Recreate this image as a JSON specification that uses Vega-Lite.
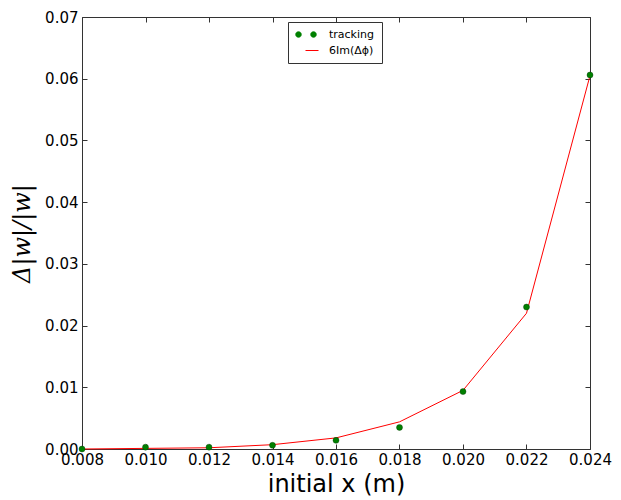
{
  "$schema": "https://vega.github.io/schema/vega-lite/v6.json",
  "width": 508,
  "height": 432,
  "autosize": "none",
  "padding": {"left": 82, "top": 17, "right": 31, "bottom": 51},
  "background": "white",
  "config": {"view": {"stroke": null}, "font": "DejaVu Sans"},
  "data": {"values": [
    {"series": "tracking", "x": 0.008, "y": 0.0000},
    {"series": "tracking", "x": 0.010, "y": 0.0003},
    {"series": "tracking", "x": 0.012, "y": 0.0003},
    {"series": "tracking", "x": 0.014, "y": 0.0006},
    {"series": "tracking", "x": 0.016, "y": 0.0014},
    {"series": "tracking", "x": 0.018, "y": 0.0035},
    {"series": "tracking", "x": 0.020, "y": 0.0093},
    {"series": "tracking", "x": 0.022, "y": 0.0230},
    {"series": "tracking", "x": 0.024, "y": 0.0606},
    {"series": "6Im(Δϕ)", "x": 0.008, "y": 0.0000},
    {"series": "6Im(Δϕ)", "x": 0.010, "y": 0.0001},
    {"series": "6Im(Δϕ)", "x": 0.012, "y": 0.0002},
    {"series": "6Im(Δϕ)", "x": 0.014, "y": 0.0007},
    {"series": "6Im(Δϕ)", "x": 0.016, "y": 0.0018},
    {"series": "6Im(Δϕ)", "x": 0.018, "y": 0.0044},
    {"series": "6Im(Δϕ)", "x": 0.020, "y": 0.0095},
    {"series": "6Im(Δϕ)", "x": 0.022, "y": 0.0220},
    {"series": "6Im(Δϕ)", "x": 0.024, "y": 0.0605}
  ]},
  "layer": [
    {
      "transform": [{"filter": "datum.series !== 'tracking'"}],
      "mark": {"type": "line", "strokeWidth": 1, "clip": false},
      "encoding": {
        "x": {"field": "x", "type": "quantitative",
          "scale": {"domain": [0.008, 0.024], "nice": false, "zero": false},
          "axis": {"orient": "top", "labels": false, "title": null, "values": [0.008,0.010,0.012,0.014,0.016,0.018,0.020,0.022,0.024], "tickSize": -5, "tickColor": "#333", "domainColor": "#333", "grid": false}},
        "y": {"field": "y", "type": "quantitative",
          "scale": {"domain": [0, 0.07], "nice": false},
          "axis": {"orient": "right", "labels": false, "title": null, "values": [0,0.01,0.02,0.03,0.04,0.05,0.06,0.07], "tickSize": -5, "tickColor": "#333", "domainColor": "#333", "grid": false}},
        "color": {"field": "series", "type": "nominal",
          "scale": {"domain": ["tracking", "6Im(Δϕ)"], "range": ["#008000", "#ff0000"]},
          "legend": {
            "title": null, "orient": "none", "legendX": 206, "legendY": 5,
            "strokeColor": "#333", "padding": 7, "symbolSize": 100,
            "labelFontSize": 11, "labelFont": "DejaVu Sans", "labelColor": "black", "rowPadding": 4, "labelOffset": 23,
            "encode": {"symbols": {"update": {
              "shape": {"signal": "datum.value === 'tracking' ? 'M -1,0 A 0.6,0.6 0 1,0 0.2,0 A 0.6,0.6 0 1,0 -1,0 Z M 2,0 A 0.6,0.6 0 1,0 3.2,0 A 0.6,0.6 0 1,0 2,0 Z' : 'M 1,0 L 3.6,0'"},
              "fill": {"signal": "datum.value === 'tracking' ? '#008000' : 'transparent'"},
              "stroke": {"signal": "datum.value === 'tracking' ? '#003300' : '#ff0000'"},
              "strokeWidth": {"signal": "datum.value === 'tracking' ? 0.4 : 1"},
              "opacity": {"value": 1}
            }}}
          }}
      }
    },
    {
      "transform": [{"filter": "datum.series === 'tracking'"}],
      "mark": {"type": "point", "filled": true, "size": 36, "opacity": 1, "stroke": "#003300", "strokeWidth": 0.4, "clip": false},
      "encoding": {
        "x": {"field": "x", "type": "quantitative",
          "axis": {"orient": "bottom", "title": "initial x (m)", "format": ".3f", "values": [0.008,0.010,0.012,0.014,0.016,0.018,0.020,0.022,0.024], "labelFontSize": 15, "labelColor": "black", "labelFont": "DejaVu Sans", "tickSize": -5, "labelPadding": 8, "tickColor": "#333", "domainColor": "#333", "grid": false, "titleFontSize": 24, "titleFont": "DejaVu Sans", "titleFontWeight": "normal", "titleColor": "black", "titlePadding": 5, "labelFlush": false}},
        "y": {"field": "y", "type": "quantitative",
          "axis": {"orient": "left", "title": "Δ|w|/|w|", "format": ".2f", "values": [0,0.01,0.02,0.03,0.04,0.05,0.06,0.07], "labelFontSize": 15, "labelColor": "black", "labelFont": "DejaVu Sans", "tickSize": -5, "labelPadding": 9, "tickColor": "#333", "domainColor": "#333", "grid": false, "titleFontSize": 24, "titleFont": "DejaVu Serif", "titleFontStyle": "italic", "titleFontWeight": "normal", "titleColor": "black", "titlePadding": 10, "labelFlush": false}},
        "color": {"field": "series", "type": "nominal"}
      }
    }
  ],
  "resolve": {"axis": {"x": "independent", "y": "independent"}}
}
